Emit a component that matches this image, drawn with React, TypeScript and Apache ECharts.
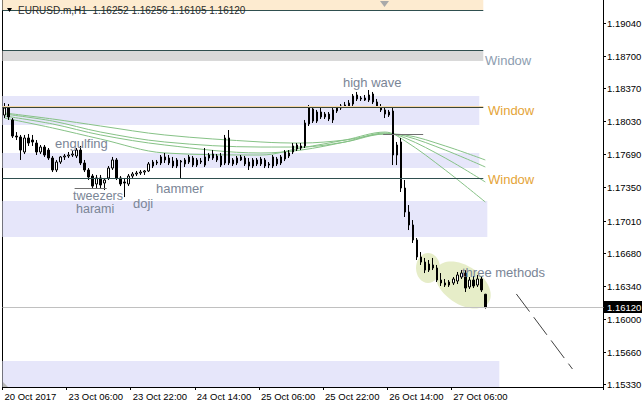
import React, { useEffect, useRef } from "react";
import * as echarts from "echarts";

const FONT = '"Liberation Sans", Arial, sans-serif';

// Time-axis tick labels (one every 16 H1 bars)
const tickLabels = ["20 Oct 2017", "23 Oct 06:00", "23 Oct 22:00", "24 Oct 14:00", "25 Oct 06:00", "25 Oct 22:00", "26 Oct 14:00", "27 Oct 06:00"];
const TICK_EVERY = 16;
const SLOTS = 150;

// Price-axis tick labels
const yTicks = [1.1904, 1.187, 1.1837, 1.1803, 1.1769, 1.1735, 1.1701, 1.1668, 1.1634, 1.16, 1.1566, 1.1533];
const Y_MIN = 1.15299;
const Y_MAX = 1.19276;

// EURUSD H1 candles
const open = [1.18094,1.18166,1.18043,1.17878,1.17868,1.17714,1.17858,1.17837,1.17806,1.17714,
1.17765,1.17734,1.17652,1.17529,1.17611,1.17663,1.17673,1.17683,1.17673,1.17734,
1.17601,1.17529,1.17467,1.17385,1.17447,1.17395,1.17447,1.17549,1.17632,1.17447,
1.17406,1.17385,1.17467,1.17488,1.17498,1.17508,1.17519,1.17570,1.17611,1.17601,
1.17663,1.17652,1.17621,1.17570,1.17611,1.17591,1.17611,1.17652,1.17580,1.17621,
1.17580,1.17652,1.17693,1.17632,1.17673,1.17601,1.17858,1.17632,1.17601,1.17663,
1.17652,1.17611,1.17570,1.17632,1.17591,1.17632,1.17580,1.17570,1.17642,1.17601,
1.17642,1.17704,1.17714,1.17745,1.17776,1.17776,1.18002,1.18156,1.18032,1.18125,
1.18074,1.18104,1.18043,1.18135,1.18166,1.18187,1.18187,1.18207,1.18300,1.18259,
1.18269,1.18248,1.18310,1.18228,1.18176,1.18146,1.18094,1.18135,1.17683,1.17817,
1.17344,1.17097,1.16964,1.16810,1.16635,1.16583,1.16501,1.16553,1.16522,1.16398,
1.16368,1.16347,1.16368,1.16388,1.16429,1.16470,1.16327,1.16398,1.16347,1.16409,
1.16252];
const high = [1.18217,1.18207,1.18063,1.17919,1.17889,1.17889,1.17899,1.17889,1.17837,1.17786,
1.17786,1.17755,1.17673,1.17632,1.17673,1.17693,1.17714,1.17724,1.17755,1.17776,
1.17632,1.17549,1.17488,1.17478,1.17478,1.17447,1.17570,1.17663,1.17652,1.17467,
1.17447,1.17488,1.17508,1.17519,1.17529,1.17529,1.17611,1.17632,1.17632,1.17683,
1.17704,1.17683,1.17663,1.17652,1.17632,1.17652,1.17683,1.17673,1.17652,1.17652,
1.17755,1.17704,1.17734,1.17693,1.17704,1.17889,1.17940,1.17652,1.17673,1.17683,
1.17673,1.17652,1.17652,1.17652,1.17663,1.17652,1.17611,1.17683,1.17663,1.17683,
1.17734,1.17734,1.17806,1.17806,1.17806,1.18043,1.18197,1.18176,1.18146,1.18166,
1.18125,1.18125,1.18166,1.18187,1.18207,1.18228,1.18248,1.18310,1.18331,1.18289,
1.18300,1.18351,1.18331,1.18259,1.18207,1.18176,1.18146,1.18166,1.17817,1.17858,
1.17426,1.17169,1.17015,1.16830,1.16686,1.16625,1.16604,1.16625,1.16553,1.16470,
1.16409,1.16398,1.16429,1.16481,1.16501,1.16501,1.16429,1.16440,1.16450,1.16440,
1.16256];
const low = [1.18063,1.18043,1.17858,1.17837,1.17632,1.17693,1.17776,1.17776,1.17683,1.17693,
1.17663,1.17632,1.17508,1.17508,1.17591,1.17632,1.17652,1.17663,1.17652,1.17580,
1.17508,1.17426,1.17344,1.17344,1.17344,1.17323,1.17426,1.17529,1.17426,1.17364,
1.17251,1.17364,1.17447,1.17467,1.17478,1.17478,1.17508,1.17549,1.17580,1.17580,
1.17601,1.17580,1.17549,1.17549,1.17447,1.17560,1.17591,1.17560,1.17560,1.17591,
1.17560,1.17621,1.17632,1.17611,1.17560,1.17580,1.17580,1.17570,1.17580,1.17621,
1.17570,1.17529,1.17549,1.17570,1.17570,1.17549,1.17549,1.17549,1.17570,1.17580,
1.17621,1.17652,1.17693,1.17724,1.17734,1.17755,1.17981,1.18012,1.18012,1.18053,
1.18053,1.18032,1.18012,1.18115,1.18146,1.18166,1.18166,1.18187,1.18238,1.18238,
1.18238,1.18228,1.18207,1.18166,1.18125,1.18063,1.18074,1.17580,1.17580,1.17303,
1.17046,1.16912,1.16779,1.16604,1.16553,1.16470,1.16481,1.16501,1.16378,1.16337,
1.16327,1.16327,1.16347,1.16357,1.16409,1.16275,1.16306,1.16316,1.16327,1.16275,
1.16105];
const close = [1.18166,1.18074,1.17878,1.17868,1.17734,1.17858,1.17806,1.17817,1.17714,1.17765,
1.17683,1.17652,1.17529,1.17611,1.17663,1.17673,1.17683,1.17693,1.17734,1.17601,
1.17529,1.17457,1.17364,1.17447,1.17375,1.17426,1.17549,1.17632,1.17447,1.17385,
1.17395,1.17467,1.17488,1.17498,1.17508,1.17519,1.17591,1.17611,1.17601,1.17663,
1.17632,1.17601,1.17570,1.17632,1.17621,1.17632,1.17663,1.17580,1.17632,1.17611,
1.17663,1.17683,1.17652,1.17673,1.17580,1.17858,1.17601,1.17591,1.17652,1.17632,
1.17591,1.17570,1.17632,1.17591,1.17642,1.17570,1.17591,1.17663,1.17591,1.17663,
1.17714,1.17673,1.17776,1.17786,1.17755,1.18012,1.18166,1.18032,1.18125,1.18074,
1.18104,1.18053,1.18146,1.18166,1.18187,1.18197,1.18217,1.18289,1.18259,1.18269,
1.18248,1.18300,1.18228,1.18176,1.18146,1.18104,1.18125,1.17683,1.17786,1.17344,
1.17097,1.16964,1.16810,1.16635,1.16583,1.16501,1.16563,1.16522,1.16398,1.16368,
1.16347,1.16378,1.16409,1.16450,1.16470,1.16316,1.16398,1.16337,1.16409,1.16296,
1.16120];

// Moving averages, read at these bar positions
const maBars = [0, 12, 24, 40, 64, 74, 85, 95, 100, 110, 120];
const maSlow = [1.18115, 1.18053, 1.17981, 1.17889, 1.17817, 1.17806, 1.17837, 1.17899, 1.17889, 1.17776, 1.17632];
const maMid1 = [1.18104, 1.18032, 1.17919, 1.17817, 1.17765, 1.17765, 1.17817, 1.17899, 1.17878, 1.17734, 1.17560];
const maMid2 = [1.18084, 1.18002, 1.17889, 1.17786, 1.17704, 1.17734, 1.17817, 1.17909, 1.17858, 1.17652, 1.17406];
const maFast = [1.18063, 1.17961, 1.17847, 1.17704, 1.17683, 1.17755, 1.17837, 1.17919, 1.17827, 1.17529, 1.17200];

// Chart objects (price levels)
const headerBand = [1.19173, Y_MAX];
const grayBand = [1.18649, 1.18752];
const zoneA = [1.17991, 1.18289];
const zoneB = [1.17549, 1.17704];
const zoneC = [1.1684, 1.1721];
const zoneD = [Y_MIN, 1.15566];
const lineTop = 1.19168;
const lineWindow1 = 1.18757;
const lineWindow2 = 1.18171;
const lineWindow2Glow = 1.18182;
const lineWindow3 = 1.17442;
const peakLine = 1.17894;
const tweezersLine = 1.17339;
const trendFrom = [127.75, 1.16255];
const trendTo = [141.75, 1.15484];

const lastClose = close[close.length - 1];

function band(x0: number, x1: number, r: number[], color: string) {
  return [{ xAxis: x0, yAxis: r[1], itemStyle: { color } }, { xAxis: x1, yAxis: r[0] }];
}
function hline(x0: number, x1: number, y: number, color: string, type: any = "solid") {
  const ls = { color, width: 1, type };
  return [{ coord: [x0, y], lineStyle: ls }, { coord: [x1, y], lineStyle: ls }];
}

function maSeries(vals: number[]) {
  return {
    type: "line",
    xAxisIndex: 1,
    yAxisIndex: 0,
    data: maBars.map((b, k) => [b, vals[k]]),
    symbol: "none",
    smooth: 0.35,
    silent: true,
    lineStyle: { color: "#86c286", width: 1 },
    z: 2,
  };
}

const isTick = (i: number) => i % TICK_EVERY === 0 && i / TICK_EVERY < tickLabels.length;

const yAxisBase = {
  type: "value",
  min: Y_MIN,
  max: Y_MAX,
  axisLine: { show: true, onZero: false, lineStyle: { color: "#000", width: 1 } },
  axisTick: { show: false },
  axisLabel: { show: false },
  splitLine: { show: false },
};

const option: any = {
  animation: false,
  backgroundColor: "#ffffff",
  textStyle: { fontFamily: FONT },
  grid: { left: 2.5, right: 38.5, top: 0, bottom: 21 },
  xAxis: [
    {
      type: "category",
      data: Array.from({ length: SLOTS }, (_, i) => String(i)),
      boundaryGap: true,
      axisLine: { show: true, onZero: false, lineStyle: { color: "#000", width: 1 } },
      axisTick: { show: true, interval: (i: number) => isTick(i), length: 3, lineStyle: { color: "#000" } },
      axisLabel: {
        interval: (i: number) => isTick(i),
        formatter: (_v: string, i: number) => (isTick(i) ? tickLabels[i / TICK_EVERY] : ""),
        align: "left",
        margin: 4,
        color: "#000",
        fontSize: 9.5,
        fontFamily: FONT,
      },
      splitLine: { show: false },
    },
    { type: "value", min: -0.5, max: SLOTS - 0.5, show: false },
  ],
  yAxis: [
    { ...yAxisBase, position: "right" },
    { ...yAxisBase, position: "left" },
  ],
  series: [
    {
      type: "line",
      xAxisIndex: 1,
      yAxisIndex: 0,
      data: [],
      z: 1,
      silent: true,
      markArea: {
        silent: true,
        data: [
          band(-0.5, 119.5, headerBand, "#fdebd0"),
          band(-0.5, 119.5, grayBand, "#d9d9d9"),
          band(-0.5, 118.5, zoneA, "#e6e6fa"),
          band(-0.5, 118.5, zoneB, "#e6e6fa"),
          band(-0.5, 120.5, zoneC, "#e6e6fa"),
          band(-0.5, 123.5, zoneD, "#e6e6fa"),
        ],
      },
      markLine: {
        silent: true,
        symbol: ["none", "none"],
        label: { show: false },
        data: [
          hline(-0.5, 119.5, lineTop, "#2f4f4f"),
          hline(-0.5, 119.5, lineWindow1, "#2f4f4f"),
          hline(-0.5, 119.5, lineWindow2Glow, "#f6d7a6"),
          hline(-0.5, 119.5, lineWindow2, "#3a4638"),
          hline(-0.5, 119.5, lineWindow3, "#2f4f4f"),
          hline(-0.5, SLOTS - 0.5, lastClose, "#c0c0c0"),
          hline(94.5, 104.5, peakLine, "#707070"),
          hline(17.5, 25.5, tweezersLine, "#707070"),
          [
            { coord: trendFrom, lineStyle: { color: "#404040", width: 1, type: [22, 7] } },
            { coord: trendTo, lineStyle: { color: "#404040", width: 1, type: [22, 7] } },
          ],
        ],
      },
    },
    maSeries(maSlow),
    maSeries(maMid1),
    maSeries(maMid2),
    maSeries(maFast),
    {
      type: "candlestick",
      xAxisIndex: 0,
      yAxisIndex: 0,
      data: open.map((o, i) => [o, close[i], low[i], high[i]]),
      barWidth: 2,
      silent: true,
      itemStyle: { color: "#ffffff", color0: "#000000", borderColor: "#000000", borderColor0: "#000000", borderWidth: 1 },
      z: 3,
    },
  ],
};

const patternColor = "#7a8596";
const winOrange = "#e5a437";

export default function App() {
  const ref = useRef<HTMLDivElement>(null);
  useEffect(() => {
    const chart = echarts.init(ref.current!, null, { renderer: "svg" });
    chart.setOption(option);
    const txt = (text: string, x: number, y: number, fill: string, fontSize: number, z = 20) => ({
      type: "text",
      x,
      y,
      z,
      silent: true,
      style: { text, fill, fontSize, fontFamily: FONT, align: "left", verticalAlign: "middle" },
    });
    const g: any[] = [
      { type: "ellipse", x: 428, y: 268, z: 1, silent: true, shape: { cx: 0, cy: 0, rx: 12, ry: 15 }, style: { fill: "#e6edc8" } },
      { type: "ellipse", x: 463, y: 285, rotation: -0.6, z: 1, silent: true, shape: { cx: 0, cy: 0, rx: 31, ry: 19 }, style: { fill: "#e6edc8" } },
      { type: "polygon", z: 20, silent: true, shape: { points: [[7, 8], [12, 8], [9.5, 12]] }, style: { fill: "#000" } },
      { type: "polygon", z: 20, silent: true, shape: { points: [[380, 1], [389, 1], [384.5, 7]] }, style: { fill: "#a9a9a9" } },
      { type: "polygon", z: 20, silent: true, shape: { points: [[3, 382], [3, 387], [8, 387]] }, style: { fill: "#b8b8b8" } },
      txt(`EURUSD.m,H1  ${open[120].toFixed(5)} ${high[120].toFixed(5)} ${low[120].toFixed(5)} ${close[120].toFixed(5)}`, 18, 10, "#2b2b2b", 10),
      txt("engulfing", 55, 143, patternColor, 13),
      txt("tweezers", 73, 196, patternColor, 12.5),
      txt("harami", 76, 209, patternColor, 12.5),
      txt("doji", 133, 203, patternColor, 13),
      txt("hammer", 156, 188, patternColor, 13),
      txt("high wave", 343, 82, patternColor, 13),
      txt("three methods", 462, 272, patternColor, 13),
      txt("Window", 485, 60, "#8d9db0", 13),
      txt("Window", 488, 110, winOrange, 13),
      txt("Window", 488, 179, winOrange, 13),
    ];
    yTicks.forEach((v) => {
      const y = Math.round(chart.convertToPixel({ yAxisIndex: 0 }, v) as number);
      g.push({ type: "line", z: 20, silent: true, shape: { x1: 603, y1: y + 0.5, x2: 606, y2: y + 0.5 }, style: { stroke: "#000", lineWidth: 1 } });
      g.push(txt(v.toFixed(5), 607, y + 0.5, "#000", 9.5));
    });
    const py = Math.round(chart.convertToPixel({ yAxisIndex: 0 }, lastClose) as number);
    g.push({ type: "rect", z: 21, silent: true, shape: { x: 604, y: py - 6, width: 38, height: 12 }, style: { fill: "#000" } });
    g.push(txt(lastClose.toFixed(5), 607, py + 0.5, "#ffffff", 9.5, 22));
    chart.setOption({ graphic: g });
    return () => chart.dispose();
  }, []);
  return <div ref={ref} style={{ position: "fixed", left: 0, top: 0, width: 642, height: 408 }} />;
}
